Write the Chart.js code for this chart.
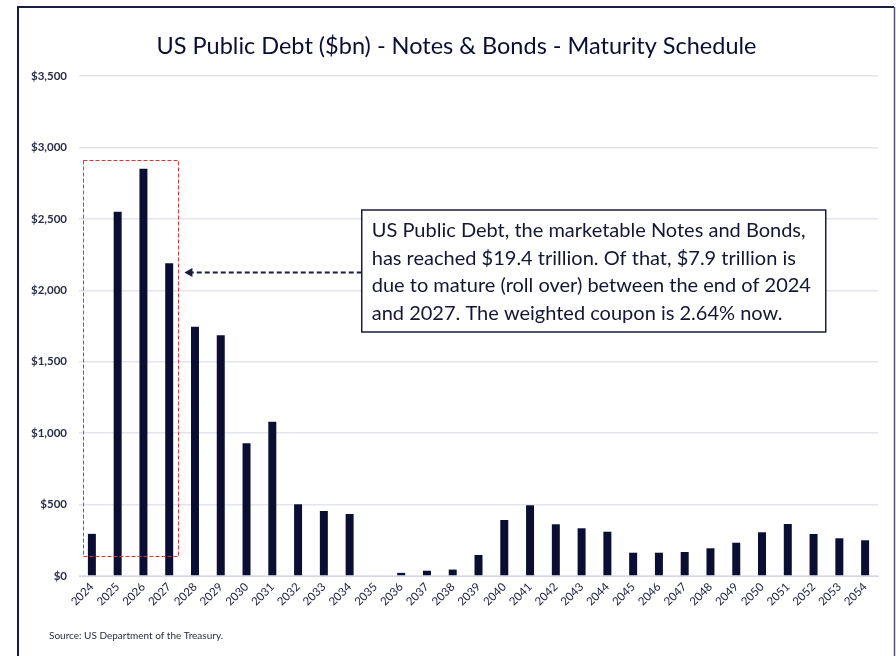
<!DOCTYPE html>
<html>
<head>
<meta charset="utf-8">
<script src="https://cdn.jsdelivr.net/npm/chart.js@4.4.1/dist/chart.umd.min.js"></script>
<style>
    html, body { margin: 0; padding: 0; background: #ffffff; }
    #wrap { width: 896px; height: 656px; position: relative; }
</style>
</head>
<body>
<div id="wrap"><canvas id="debtChart" width="896" height="656"></canvas></div>
<script>
// Погашение нот и облигаций по годам, $ млрд
const years = [
    "2024", "2025", "2026", "2027", "2028", "2029", "2030", "2031", "2032", "2033",
    "2034", "2035", "2036", "2037", "2038", "2039", "2040", "2041", "2042", "2043",
    "2044", "2045", "2046", "2047", "2048", "2049", "2050", "2051", "2052", "2053", "2054"
];
const maturing = [
    295, 2550, 2850, 2190, 1745, 1685, 930, 1080, 502, 455,
    434, 0, 22, 37, 45, 147, 392, 495, 362, 334,
    310, 163, 163, 168, 194, 233, 306, 364, 294, 264, 250
];
const yTicks = [0, 500, 1000, 1500, 2000, 2500, 3000, 3500];

const titleText = "US Public Debt ($bn) - Notes & Bonds - Maturity Schedule";
const sourceText = "Source: US Department of the Treasury.";
const noteLines = [
    "US Public Debt, the marketable Notes and Bonds,",
    "has reached $19.4 trillion. Of that, $7.9 trillion is",
    "due to mature (roll over) between the end of 2024",
    "and 2027. The weighted coupon is 2.64% now."
];

const NAVY = "#0b0e33";
const FONT = "Lato, 'Noto Sans', sans-serif";

// Рамка, заголовок, подпись источника, пунктирная рамка 2024-2027, стрелка и текстовый блок
const decorPlugin = {
    id: "decor",
    beforeDraw(chart) {
        const c = chart.ctx;
        c.save();
        c.fillStyle = "#ffffff";
        c.fillRect(0, 0, chart.width, chart.height);
        c.strokeStyle = "#1b1d40";
        c.lineWidth = 2;
        c.beginPath();
        c.moveTo(18, chart.height + 5);
        c.lineTo(18, 7);
        c.lineTo(894, 7);
        c.stroke();
        c.strokeStyle = "#55566e";
        c.lineWidth = 1.5;
        c.beginPath();
        c.moveTo(894.5, 7);
        c.lineTo(894.5, chart.height + 5);
        c.stroke();

        // заголовок
        c.fillStyle = NAVY;
        c.font = "23.5px " + FONT;
        c.textAlign = "center";
        c.textBaseline = "middle";
        c.fillText(titleText, 456.5, 46);
        c.restore();
    },
    afterDraw(chart) {
        const c = chart.ctx;
        const x = chart.scales.x;
        const y = chart.scales.y;
        c.save();

        // пунктирная рамка вокруг 2024-2027
        const rx1 = Math.round(x.getPixelForValue(-0.34)) + 0.5;
        const rx2 = Math.round(x.getPixelForValue(3.34)) + 0.5;
        const ry1 = Math.round(y.getPixelForValue(2915)) + 0.5;
        const ry2 = Math.round(y.getPixelForValue(138)) + 0.5;
        c.strokeStyle = "#e03535";
        c.lineWidth = 1;
        c.setLineDash([4, 2]);
        c.beginPath();
        c.moveTo(rx1, ry1);
        c.lineTo(rx2, ry1);
        c.lineTo(rx2, ry2);
        c.lineTo(rx1, ry2);
        c.closePath();
        c.stroke();

        // текстовый блок
        const bx = x.getPixelForValue(10.47), by = y.getPixelForValue(2562);
        const bw = 464, bh = 122;
        c.setLineDash([]);
        c.fillStyle = "#ffffff";
        c.fillRect(bx, by, bw, bh);
        c.strokeStyle = "#1b1d40";
        c.lineWidth = 1.5;
        c.strokeRect(bx, by, bw, bh);
        c.fillStyle = "#141634";
        c.font = "20px " + FONT;
        c.textBaseline = "middle";
        c.textAlign = "left";
        noteLines.forEach((line, i) => c.fillText(line, bx + 10, by + 21 + i * 27.5));

        // стрелка к столбцу 2027
        const ay = Math.round(y.getPixelForValue(2130)) + 0.5;
        const tipX = x.getPixelForValue(3.59);
        c.strokeStyle = "#1b1d40";
        c.lineWidth = 1.8;
        c.setLineDash([5, 3]);
        c.beginPath();
        c.moveTo(bx, ay);
        c.lineTo(tipX + 6, ay);
        c.stroke();
        c.setLineDash([]);
        c.fillStyle = "#1b1d40";
        c.beginPath();
        c.moveTo(tipX, ay);
        c.lineTo(tipX + 8, ay - 4.5);
        c.lineTo(tipX + 8, ay + 4.5);
        c.closePath();
        c.fill();

        // источник
        c.fillStyle = "#2a2c45";
        c.font = "10px " + FONT;
        c.fillText(sourceText, 49, 636);
        c.restore();
    }
};

new Chart(document.getElementById("debtChart"), {
    type: "bar",
    data: {
        labels: years,
        datasets: [{
            label: "Maturing",
            data: maturing,
            backgroundColor: NAVY,
            borderWidth: 0,
            categoryPercentage: 0.31,
            barPercentage: 1
        }]
    },
    options: {
        responsive: false,
        animation: false,
        layout: { padding: { top: 76, left: 20, right: 18, bottom: 20 } },
        plugins: {
            legend: { display: false },
            tooltip: { enabled: false },
            title: { display: false }
        },
        scales: {
            x: {
                grid: { display: false, drawTicks: false },
                border: { display: true, color: "#d6d6e6", width: 1 },
                ticks: {
                    color: "#1d1f3e",
                    font: { family: FONT, size: 11.5 },
                    maxRotation: 45,
                    minRotation: 45,
                    padding: 4,
                    autoSkip: false
                },
                afterFit(scale) { scale.height = 60; }
            },
            y: {
                min: 0,
                max: 3500,
                afterBuildTicks(scale) { scale.ticks = yTicks.map(v => ({ value: v })); },
                grid: { color: "#e4e4ef", lineWidth: 1.5, drawTicks: false },
                border: { display: false },
                ticks: {
                    color: "#2b2d4a",
                    font: { family: FONT, size: 11.5, weight: "bold" },
                    padding: 12,
                    callback: v => "$" + v.toLocaleString("en-US")
                },
                afterFit(scale) { scale.width = 59; }
            }
        }
    },
    plugins: [decorPlugin]
});
</script>
</body>
</html>
